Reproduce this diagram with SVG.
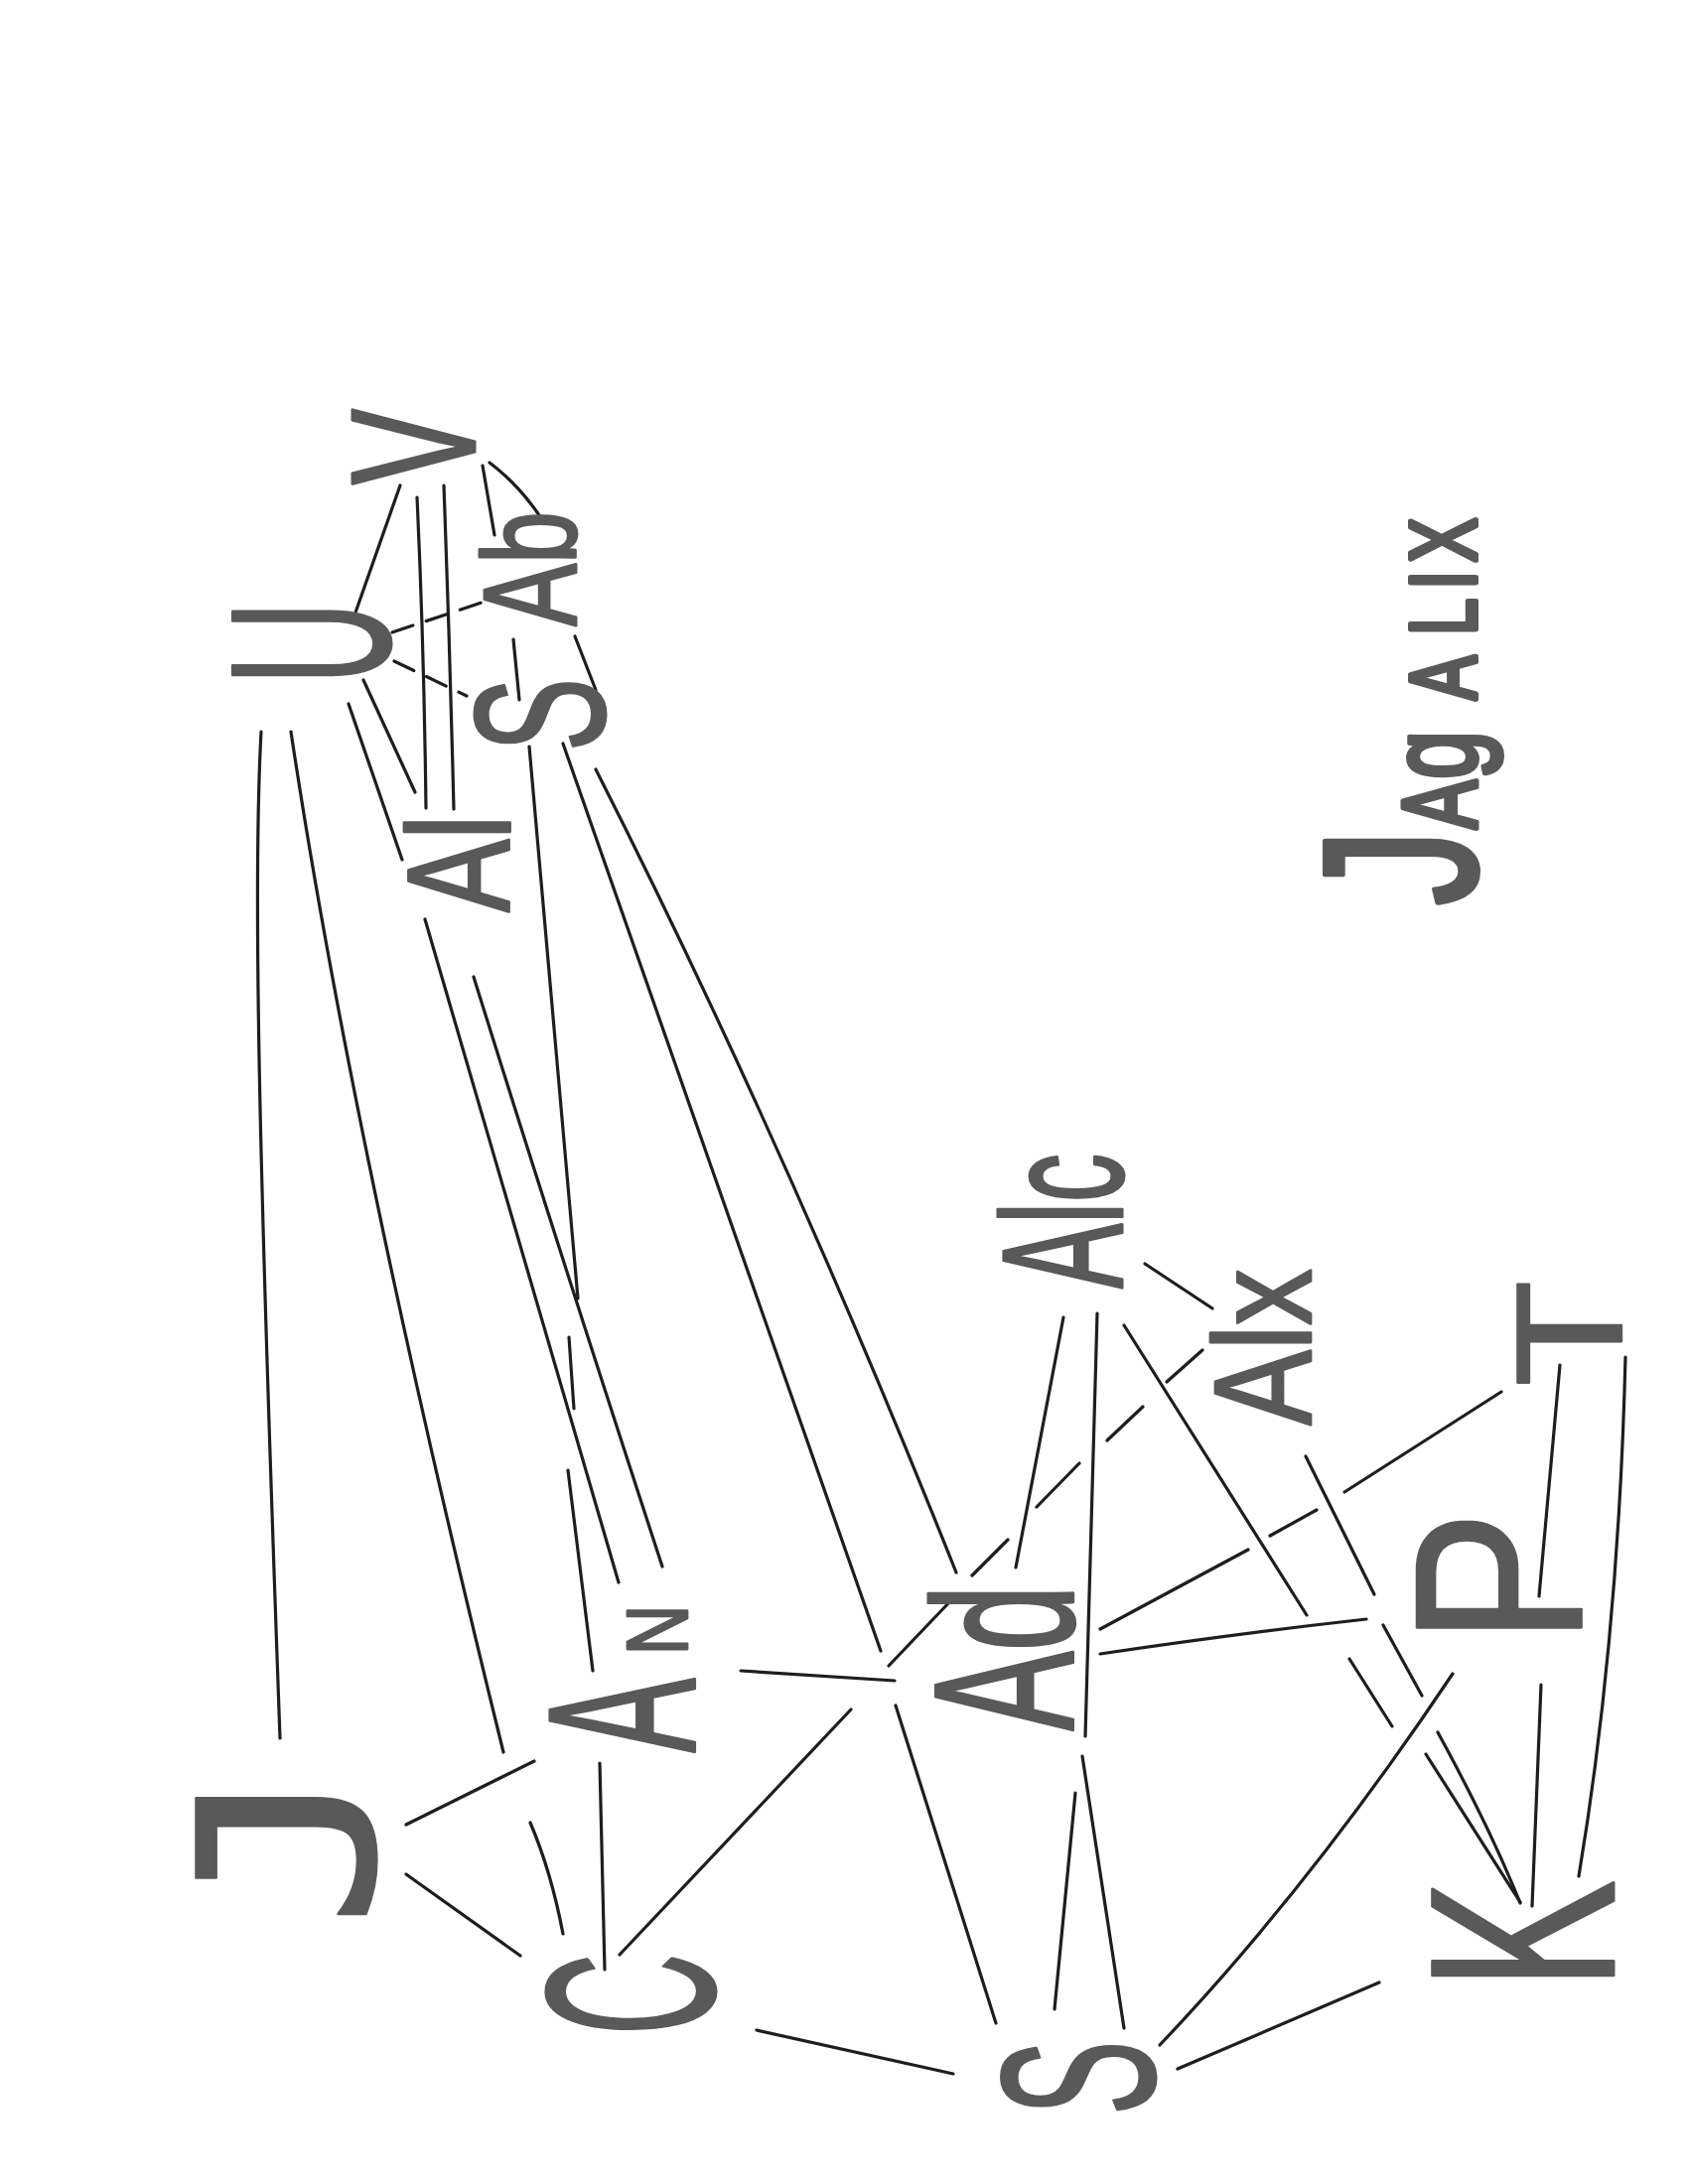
<svg xmlns="http://www.w3.org/2000/svg" width="1700" height="2200" viewBox="0 0 1700 2200">
<style>
.lbl{font-family:"Liberation Sans",Arial,sans-serif;fill:#595959;stroke:#595959;stroke-width:2.5;stroke-linejoin:round;vector-effect:non-scaling-stroke}
.ttl{stroke-width:6}
.mono{font-family:"DejaVu Sans Mono","Liberation Mono",monospace}
.ln{fill:none;stroke:#1e1e1e;stroke-width:3.2;stroke-linecap:round}
</style>
<rect width="1700" height="2200" fill="#fff"/>
<g id="connectors" class="ln">
<path d="M403,489 L358,617"/>
<path d="M420,501 Q427,650 429,814"/>
<path d="M447,489 Q453,650 457,815"/>
<path d="M486,469 L498,539 M517,644 L523,705"/>
<path d="M493,466 Q522,488 543,519"/>
<path d="M395,637 L485,607" stroke-dasharray="22 14"/>
<path d="M397,666 L470,701" stroke-dasharray="22 14"/>
<path d="M579,641 L600,695"/>
<path d="M366,685 L418,798"/>
<path d="M351,709 L405,866 M428,926 L623,1594"/>
<path d="M263,737 C254,900 262,1200 282,1751"/>
<path d="M293,737 Q355,1150 507,1765 M534,1836 Q555,1885 567,1948"/>
<path d="M477,984 Q560,1250 667,1578"/>
<path d="M533,752 Q556,1000 582,1308 M573,1347 L578,1419 M572,1481 L597,1683"/>
<path d="M567,749 L887,1663 M902,1718 L1003,2038"/>
<path d="M600,775 Q790,1150 963,1584"/>
<path d="M409,1838 L538,1774"/>
<path d="M409,1888 L524,1970"/>
<path d="M604,1776 L609,1984"/>
<path d="M746,1683 L901,1693"/>
<path d="M624,1969 L857,1722 M895,1678 L957,1613"/>
<path d="M762,2045 L960,2089"/>
<path d="M979,1587 L1015,1551 M1044,1518 L1087,1474 M1115,1451 L1151,1417 M1175,1392 L1211,1360"/>
<path d="M1071,1327 L1023,1579"/>
<path d="M1105,1323 L1093,1749 M1090,1769 L1132,2043"/>
<path d="M1083,1806 L1062,2024"/>
<path d="M1108,1641 L1257,1561 M1279,1547 L1326,1521 M1354,1503 L1512,1402"/>
<path d="M1108,1666 Q1250,1645 1376,1631"/>
<path d="M1153,1273 L1221,1318"/>
<path d="M1132,1335 L1316,1627 M1359,1671 L1402,1739 M1436,1767 L1531,1916"/>
<path d="M1315,1467 L1384,1606 M1393,1637 L1432,1708 M1448,1745 Q1500,1840 1531,1917"/>
<path d="M1571,1375 L1550,1608"/>
<path d="M1637,1367 Q1630,1650 1590,1890"/>
<path d="M1552,1697 L1543,1920"/>
<path d="M1463,1686 Q1320,1900 1168,2060"/>
<path d="M1389,1997 L1186,2084"/>
</g>
<g id="n-V"><text class="lbl" text-anchor="middle" font-size="179" transform="translate(478,450) rotate(-90) scale(0.64,1)">V</text></g>
<g id="n-U"><text class="lbl" text-anchor="middle" font-size="229" transform="translate(392,648) rotate(-90) scale(0.5,1)">U</text></g>
<g id="n-Ab"><text class="lbl" text-anchor="middle" font-size="133" transform="translate(580,573) rotate(-90) scale(0.71,1)">Ab</text></g>
<g id="n-S1"><text class="lbl" text-anchor="middle" font-size="185" transform="translate(608,720) rotate(-90) scale(0.6,1)">S</text></g>
<g id="n-Al"><text class="lbl" text-anchor="middle" font-size="147" transform="translate(513,870) rotate(-90) scale(0.75,1)">Al</text></g>
<g id="n-An"><text class="lbl" text-anchor="middle" font-size="212" transform="translate(700,1728) rotate(-90) scale(0.53,1)">A</text><text class="lbl" text-anchor="middle" font-size="87" transform="translate(692,1642) rotate(-90) scale(0.8,1)">N</text></g>
<g id="n-J"><text class="lbl mono" text-anchor="middle" font-size="245" transform="translate(376,1858) rotate(-90) scale(1.15,1)">J</text></g>
<g id="n-C"><text class="lbl" text-anchor="middle" font-size="242" transform="translate(719,2009) rotate(-90) scale(0.47,1)">C</text></g>
<g id="n-Ad"><text class="lbl" text-anchor="middle" font-size="200" transform="translate(1080,1670) rotate(-90) scale(0.6,1)">Ad</text></g>
<g id="n-Alc"><text class="lbl" text-anchor="middle" font-size="172" transform="translate(1130,1230) rotate(-90) scale(0.57,1)">Alc</text></g>
<g id="n-Alx"><text class="lbl" text-anchor="middle" font-size="140" transform="translate(1320,1357) rotate(-90) scale(0.81,1)">Alx</text></g>
<g id="n-T"><text class="lbl" text-anchor="middle" font-size="152" transform="translate(1633,1343) rotate(-90) scale(1.15,1)">T</text></g>
<g id="n-P"><text class="lbl" text-anchor="middle" font-size="239" transform="translate(1592,1589) rotate(-90) scale(0.84,1)">P</text></g>
<g id="n-K"><text class="lbl" text-anchor="middle" font-size="265" transform="translate(1625,1949) rotate(-90) scale(0.62,1)">K</text></g>
<g id="n-S2"><text class="lbl" text-anchor="middle" font-size="220" transform="translate(1162,2093) rotate(-90) scale(0.51,1)">S</text></g>
<g id="title"><text class="lbl ttl" transform="translate(1486,0) rotate(-90) scale(0.7,1)"><tspan x="-1303" font-size="219">J</tspan><tspan x="-1193" font-size="105">A</tspan><tspan x="-1121" font-size="125">g</tspan><tspan x="-1007" font-size="95">A</tspan><tspan x="-914" font-size="95">L</tspan><tspan x="-848" font-size="95">I</tspan><tspan x="-809" font-size="95">X</tspan></text></g>
</svg>
